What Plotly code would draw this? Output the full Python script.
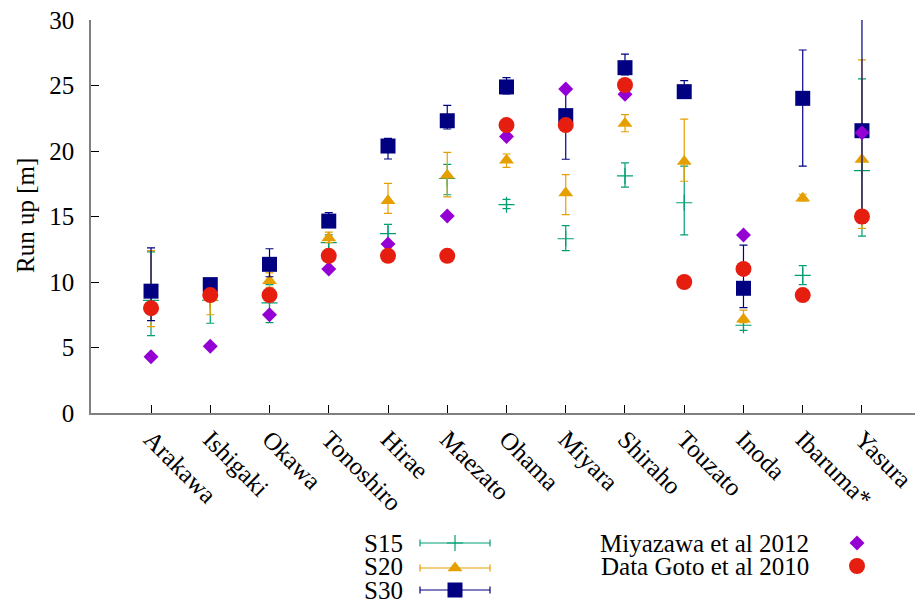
import plotly.graph_objects as go

sites = ["Arakawa", "Ishigaki", "Okawa", "Tonoshiro", "Hirae", "Maezato", "Ohama",
         "Miyara", "Shiraho", "Touzato", "Inoda", "Ibaruma*", "Yasura"]

# S15: value, lower bound, upper bound
s15 = [8.6, 8.6, 8.4, 13.0, 13.7, 17.9, 15.9, 13.3, 18.1, 16.05, 6.7, 10.5, 18.5]
s15_lo = [5.9, 6.85, 6.9, 12.4, 13.0, 16.66, 15.6, 12.4, 17.25, 13.6, 6.3, 9.8, 13.5]
s15_hi = [12.3, 9.2, 9.8, 13.6, 14.4, 18.98, 16.3, 14.3, 19.1, 18.85, 6.95, 11.25, 25.5]

s20 = [9.3, 8.8, 10.1, 13.35, 16.2, 18.15, 19.3, 16.8, 22.1, 19.2, 7.15, 16.4, 19.35]
s20_lo = [6.6, 7.5, 9.6, 13.0, 15.24, 16.5, 18.75, 15.14, 21.47, 17.69, 6.9, 16.2, 14.1]
s20_hi = [12.4, 9.3, 10.7, 13.8, 17.53, 19.9, 19.77, 18.19, 22.77, 22.44, 7.86, 16.7, 26.95]

s30 = [9.3, 9.8, 11.35, 14.65, 20.38, 22.31, 24.89, 22.7, 26.36, 24.53, 9.52, 24.02, 21.55]
s30_lo = [7.05, 9.3, 10.4, 14.2, 19.39, 21.68, 24.35, 19.37, 25.8, 24.2, 8.04, 18.85, 14.5]
s30_hi = [12.6, 10.1, 12.54, 15.3, 20.97, 23.49, 25.6, 24.7, 27.4, 25.37, 12.82, 27.71, 31.0]

miyazawa = [4.3, 5.1, 7.5, 11.0, 12.9, 15.04, 21.1, 24.73, 24.33, None, 13.59, None, 21.4]
goto = [8.0, 9.0, 9.0, 12.0, 12.0, 12.0, 21.98, 21.98, 25.04, 10.0, 11.0, 9.0, 15.0]

yticks = [0, 5, 10, 15, 20, 25, 30]

C15 = "#009e73"
C20 = "#e69f00"
C30 = "#000080"
CMIY = "#9400d3"
CGOTO = "#e51e10"
FONT = "Liberation Serif"
FS = 25

W, H = 915, 602
PL, PT, PB = 91, 20, 413


def err(vals, lo, hi):
    return dict(type="data", symmetric=False,
                array=[h - v for v, h in zip(vals, hi)],
                arrayminus=[v - l for v, l in zip(vals, lo)],
                width=4, thickness=1.2)


fig = go.Figure()

e = err(s15, s15_lo, s15_hi); e["color"] = C15
fig.add_trace(go.Scatter(x=sites, y=s15, mode="markers", error_y=e,
                         marker=dict(symbol="cross-thin", size=11.5, color=C15,
                                     line=dict(width=1.2, color=C15))))
e = err(s20, s20_lo, s20_hi); e["color"] = C20
fig.add_trace(go.Scatter(x=sites, y=s20, mode="markers", error_y=e,
                         marker=dict(symbol="triangle-up", size=13, color=C20)))
e = err(s30, s30_lo, s30_hi); e["color"] = C30
fig.add_trace(go.Scatter(x=sites, y=s30, mode="markers", error_y=e,
                         marker=dict(symbol="square", size=15, color=C30)))
fig.add_trace(go.Scatter(x=sites, y=miyazawa, mode="markers",
                         marker=dict(symbol="diamond", size=11.5, color=CMIY)))
fig.add_trace(go.Scatter(x=sites, y=goto, mode="markers",
                         marker=dict(symbol="circle", size=16, color=CGOTO)))

# legend samples on a pixel-coordinate overlay axis
leg_rows = [543, 566, 590]
samples = [("S15", C15, dict(symbol="cross-thin", size=11.5, color=C15, line=dict(width=1.2, color=C15))),
           ("S20", C20, dict(symbol="triangle-up", size=13, color=C20)),
           ("S30", C30, dict(symbol="square", size=15, color=C30))]
for (name, col, mk), yy in zip(samples, leg_rows):
    fig.add_trace(go.Scatter(x=[455], y=[yy + (2 if name == "S20" else 0)], xaxis="x2", yaxis="y2", mode="markers",
                             marker=mk,
                             error_x=dict(type="constant", value=35, color=col, width=3.5, thickness=1.2)))
    fig.add_annotation(x=405, y=yy, xref="x2", yref="y2", text=name, showarrow=False,
                       xanchor="right", yanchor="middle", font=dict(family=FONT, size=FS, color="black"))

fig.add_trace(go.Scatter(x=[857], y=[leg_rows[0]], xaxis="x2", yaxis="y2", mode="markers",
                         marker=dict(symbol="diamond", size=11.5, color=CMIY)))
fig.add_trace(go.Scatter(x=[857], y=[leg_rows[1]], xaxis="x2", yaxis="y2", mode="markers",
                         marker=dict(symbol="circle", size=16, color=CGOTO)))
for txt, yy in [("Miyazawa et al 2012", leg_rows[0]), ("Data Goto et al 2010", leg_rows[1])]:
    fig.add_annotation(x=811, y=yy, xref="x2", yref="y2", text=txt, showarrow=False,
                       xanchor="right", yanchor="middle", font=dict(family=FONT, size=FS, color="black"))

fig.add_annotation(x=25, y=216, xref="x2", yref="y2", text="Run up [m]", showarrow=False,
                   textangle=-90, xanchor="center", yanchor="middle",
                   font=dict(family=FONT, size=FS, color="black"))

fig.update_layout(
    width=W, height=H,
    margin=dict(l=0, r=0, t=0, b=0),
    paper_bgcolor="white", plot_bgcolor="rgba(0,0,0,0)",
    showlegend=False,
    font=dict(family=FONT, size=FS, color="black"),
    xaxis=dict(domain=[PL / W, 1], type="category", range=[-1.013, 12.895],
               showline=True, linecolor="#808080", linewidth=1.5,
               ticks="inside", ticklen=8, tickcolor="black", tickwidth=1,
               tickangle=45, showgrid=False, zeroline=False, automargin=False,
               tickfont=dict(family=FONT, size=FS, color="black")),
    yaxis=dict(domain=[(H - PB) / H, (H - PT) / H], range=[0, 30],
               tickvals=yticks, ticktext=[str(v) for v in yticks],
               showline=True, linecolor="#808080", linewidth=1.5,
               ticks="inside", ticklen=8, tickcolor="black", tickwidth=1,
               ticklabelstandoff=10,
               showgrid=False, zeroline=False, automargin=False,
               tickfont=dict(family=FONT, size=FS, color="black")),
    xaxis2=dict(domain=[0, 1], range=[0, W], visible=False, anchor="y2"),
    yaxis2=dict(domain=[0, 1], range=[H, 0], visible=False, anchor="x2"),
)

fig.write_html("out.html")
